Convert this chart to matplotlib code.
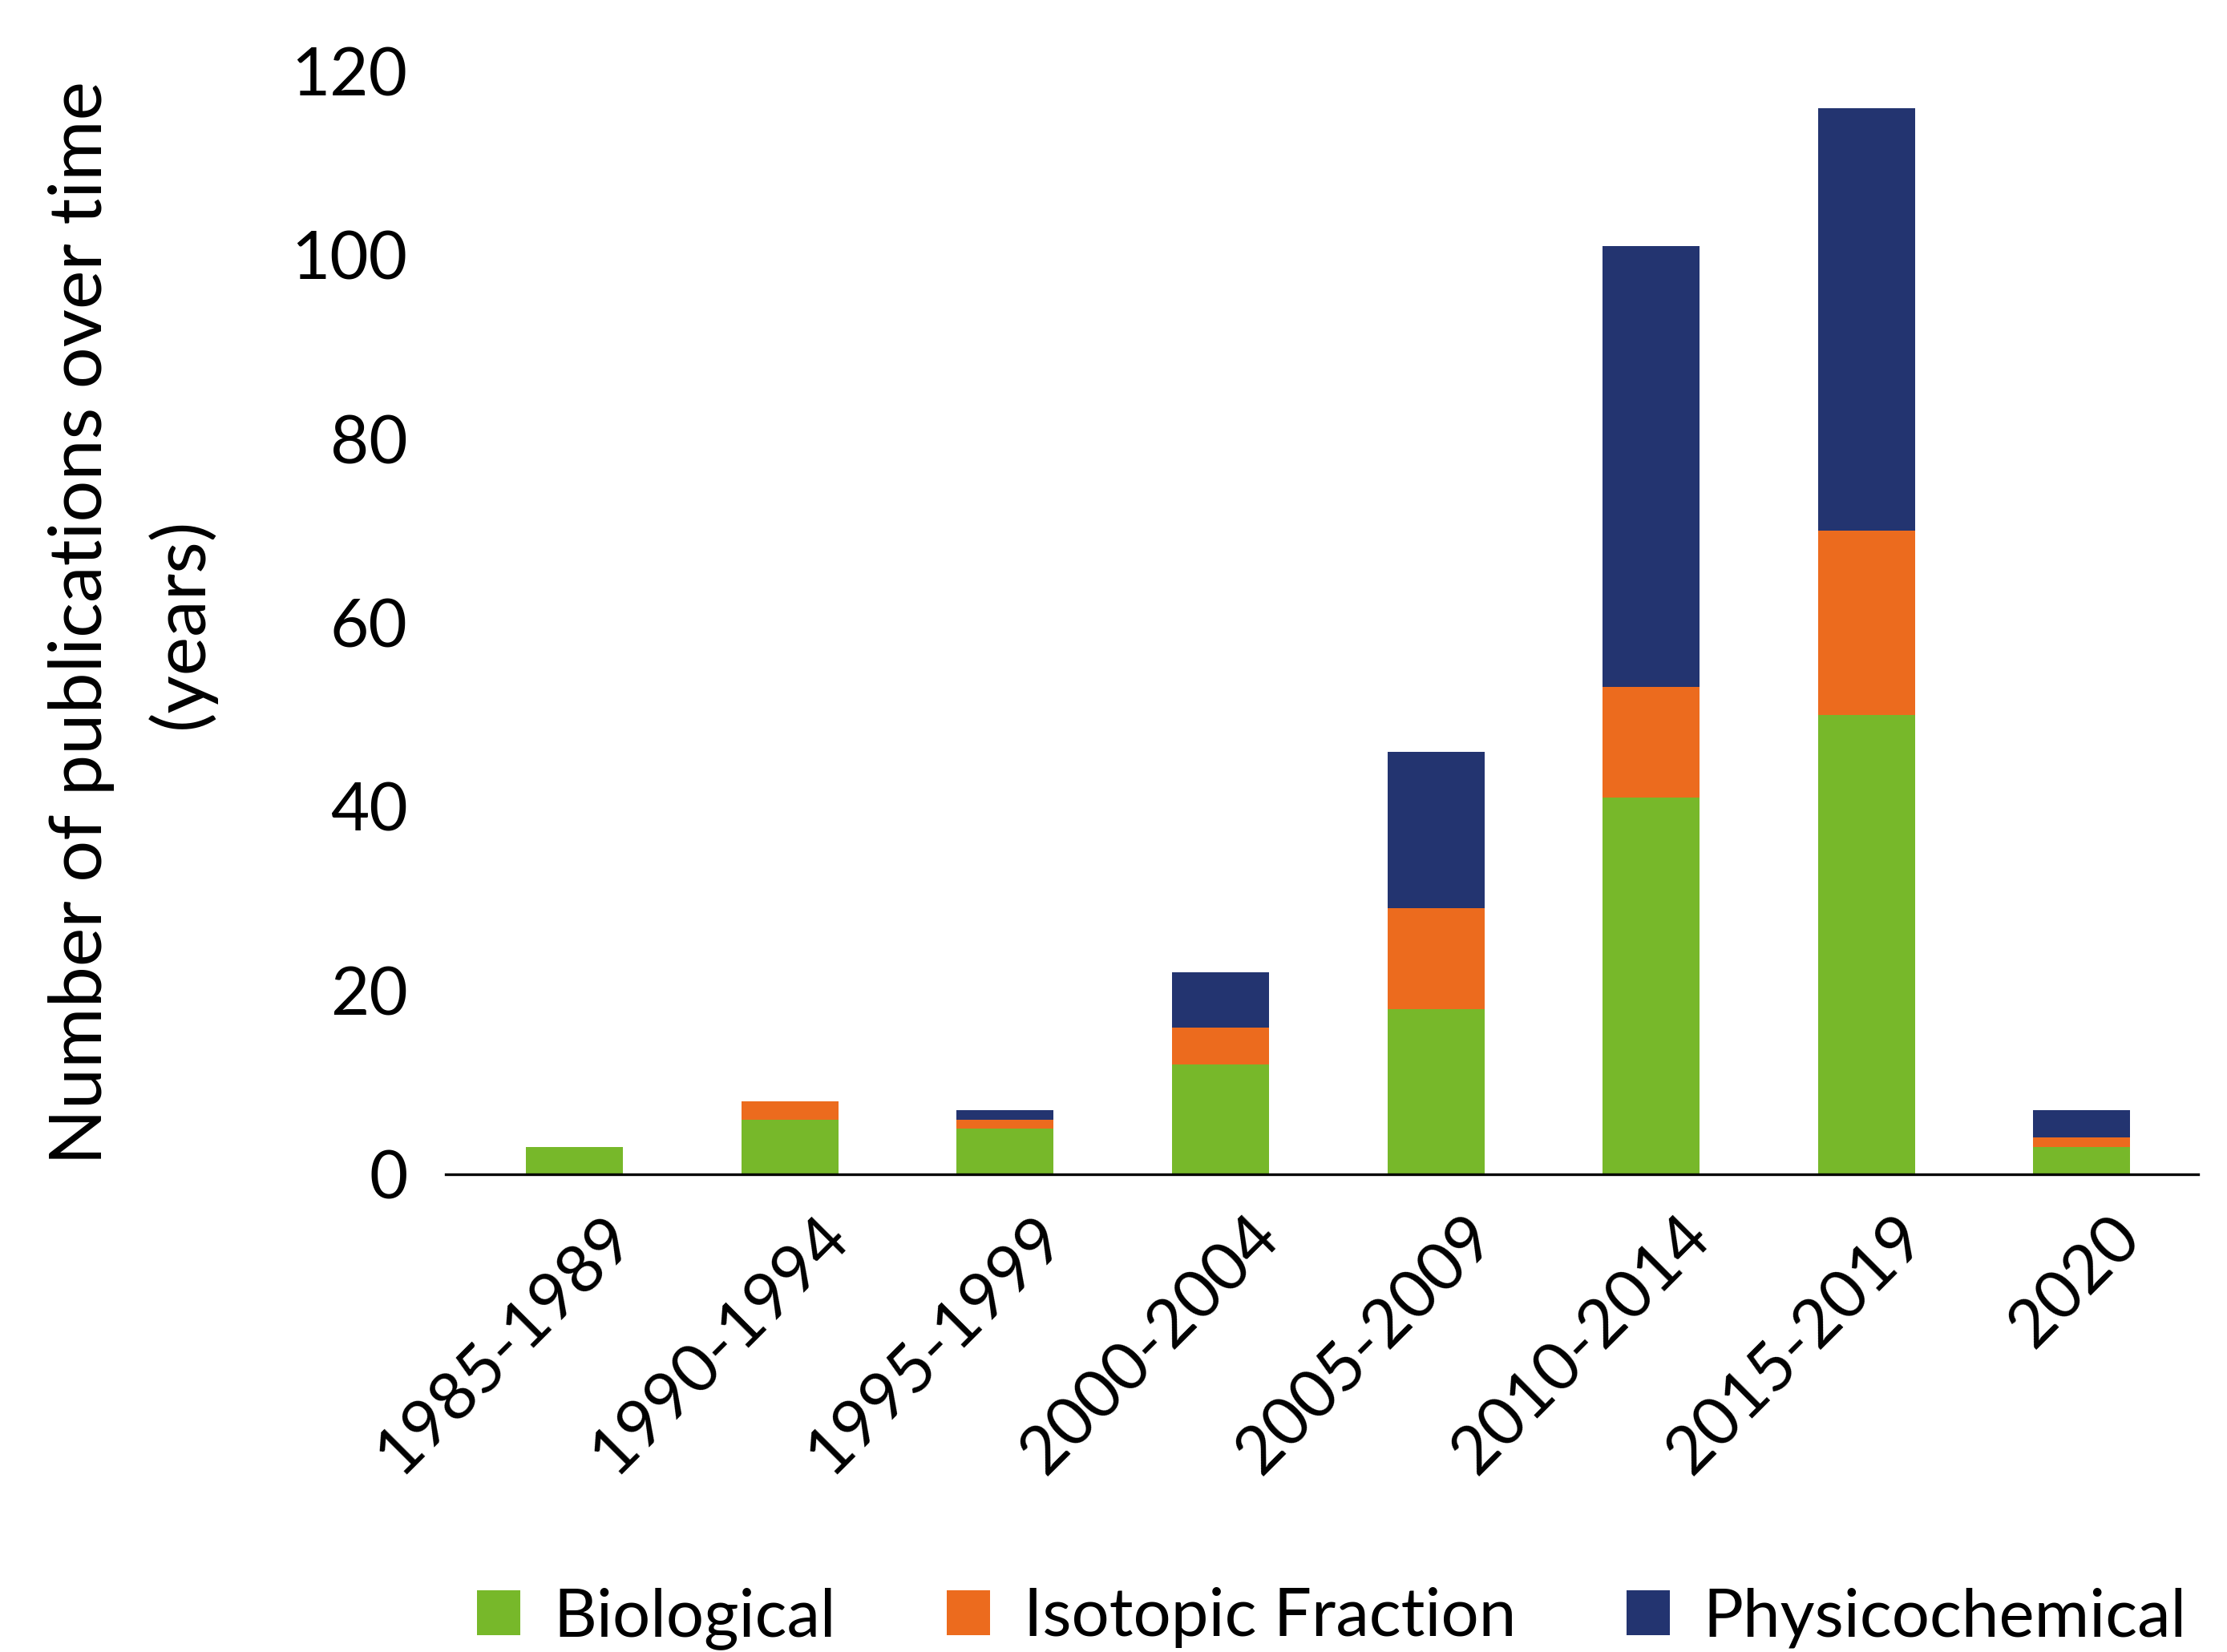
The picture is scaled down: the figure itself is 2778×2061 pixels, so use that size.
import numpy as np
import matplotlib.pyplot as plt
from matplotlib.transforms import ScaledTranslation

plt.rcParams['font.family'] = ['Lato', 'DejaVu Sans']

periods = ['1985-1989', '1990-1994', '1995-1999', '2000-2004',
           '2005-2009', '2010-2014', '2015-2019', '2020']
biological = [3, 6, 5, 12, 18, 41, 50, 3]
isotopic = [0, 2, 1, 4, 11, 12, 20, 1]
physicochemical = [0, 0, 1, 6, 17, 48, 46, 3]

colors = {'Biological': '#77B82A', 'Isotopic Fraction': '#EC6B1E',
          'Physicochemical': '#233470'}

fig = plt.figure(figsize=(13.89, 10.305), dpi=200)
ax = fig.add_axes([0.2, 0.289, 0.787, 0.668])

x = np.arange(len(periods))
bio = np.array(biological)
iso = np.array(isotopic)
phy = np.array(physicochemical)
w = 0.45
ax.bar(x, bio, w, color=colors['Biological'], label='Biological')
ax.bar(x, iso, w, bottom=bio, color=colors['Isotopic Fraction'], label='Isotopic Fraction')
ax.bar(x, phy, w, bottom=bio + iso, color=colors['Physicochemical'], label='Physicochemical')

ax.set_xlim(-0.6, 7.54)
ax.set_ylim(0, 120)
ax.set_yticks(range(0, 121, 20))
ax.set_xticks(x)
ax.tick_params(axis='y', labelsize=30, length=0, pad=17)
ax.tick_params(axis='x', length=0, pad=14)
ax.set_xticklabels(periods, rotation=45, ha='right', rotation_mode='anchor', fontsize=30)
# nudge the rotated labels to the right, like the original
offset = ScaledTranslation(0.17, 0, fig.dpi_scale_trans)
for lbl in ax.get_xticklabels():
    lbl.set_transform(lbl.get_transform() + offset)
for s in ['top', 'right', 'left']:
    ax.spines[s].set_visible(False)
ax.spines['bottom'].set_linewidth(1.2)

ax.set_ylabel('Number of publications over time\n(years)', fontsize=33, labelpad=34,
              linespacing=1.55)

fig.legend(loc='lower center', bbox_to_anchor=(0.598, -0.035), ncol=3, frameon=False,
           fontsize=30, handlelength=0.65, handleheight=0.65, columnspacing=1.65,
           handletextpad=0.5)

fig.savefig('out.png', dpi=200)
